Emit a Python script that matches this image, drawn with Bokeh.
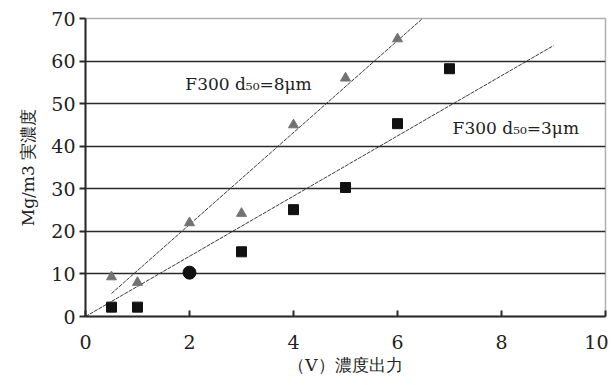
from bokeh.plotting import figure
from bokeh.models import Label, FixedTicker, ColumnDataSource, Range1d
from bokeh.embed import file_html
from bokeh.resources import INLINE

# Data
x_8um = [0.5, 1, 2, 3, 4, 5, 6]
y_8um = [9.3, 8, 22, 24.2, 45, 56, 65.2]

x_3um = [0.5, 1, 2, 3, 4, 5, 6, 7]
y_3um = [2.2, 2.2, 10.3, 15.2, 25.1, 30.3, 45.3, 58.2]
m_3um = ["square", "square", "circle", "square", "square", "square", "square", "square"]

# Trend lines (slope, start x, end x)
fit_8um = dict(slope=10.8, x0=0.5, x1=70 / 10.8)
fit_3um = dict(slope=7.07, x0=0.0, x1=9.0)

x_ticks = [0, 2, 4, 6, 8, 10]
y_ticks = [0, 10, 20, 30, 40, 50, 60, 70]
grid_y = [10, 20, 30, 40, 50, 60]

SERIF = "DejaVu Serif"

p = figure(width=608, height=377, output_backend="svg", toolbar_location=None,
           x_range=Range1d(0, 10), y_range=Range1d(0, 70),
           min_border_left=85, min_border_right=3, min_border_top=18, min_border_bottom=61)
p.background_fill_color = "white"
p.border_fill_color = "white"
p.outline_line_color = "#b0b0b0"
p.outline_line_width = 1.5

p.xgrid.visible = False
p.ygrid.ticker = FixedTicker(ticks=grid_y)
p.ygrid.grid_line_color = "#2a2a2a"
p.ygrid.grid_line_width = 1.5

# axes
p.xaxis.ticker = FixedTicker(ticks=x_ticks)
p.yaxis.ticker = FixedTicker(ticks=y_ticks)
for ax in (p.xaxis[0], p.yaxis[0]):
    ax.axis_line_color = "#2a2a2a"
    ax.axis_line_width = 2
    ax.major_tick_line_color = "#2a2a2a"
    ax.major_tick_line_width = 2
    ax.minor_tick_line_color = None
    ax.major_label_text_font = SERIF
    ax.major_label_text_font_size = "19px"
    ax.major_label_text_color = "#222222"
    ax.axis_label_text_font = SERIF
    ax.axis_label_text_font_style = "normal"
    ax.axis_label_text_font_size = "17px"
    ax.axis_label_text_color = "#222222"
p.xaxis.major_tick_in = 6
p.xaxis.major_tick_out = 0
p.xaxis.major_label_standoff = 18
p.yaxis.major_tick_in = 0
p.yaxis.major_tick_out = 6
p.yaxis.major_label_standoff = 4
p.xaxis.axis_label = "（V）濃度出力"
p.xaxis.axis_label_standoff = 3
p.yaxis.axis_label = "Mg/m3 実濃度"
p.yaxis.axis_label_standoff = 10

# trend lines
for f in (fit_8um, fit_3um):
    xs = [f["x0"], f["x1"]]
    ys = [f["slope"] * v for v in xs]
    p.line(xs, ys, line_color="#3a3a3a", line_width=1, line_dash="4 1")

# markers
p.scatter(x_8um, y_8um, marker="triangle", size=10, fill_color="#727272", line_color="#727272")
src3 = ColumnDataSource(dict(x=x_3um, y=y_3um, m=m_3um,
                             s=[13 if mm == "circle" else 10 for mm in m_3um]))
p.scatter("x", "y", marker="m", size="s", source=src3, fill_color="#111111", line_color="#111111")

# annotations
lab1 = Label(x=1.92, y=54.7, text="F300 d₅₀=8μm", text_font=SERIF, text_font_size="17px",
             text_color="#222222", text_baseline="middle", text_align="left",
             background_fill_color="white", background_fill_alpha=1.0)
lab2 = Label(x=7.06, y=44.2, text="F300 d₅₀=3μm", text_font=SERIF, text_font_size="17px",
             text_color="#222222", text_baseline="middle", text_align="left",
             background_fill_color="white", background_fill_alpha=1.0)
p.add_layout(lab1)
p.add_layout(lab2)

open("out.html", "w").write(file_html(p, INLINE))
